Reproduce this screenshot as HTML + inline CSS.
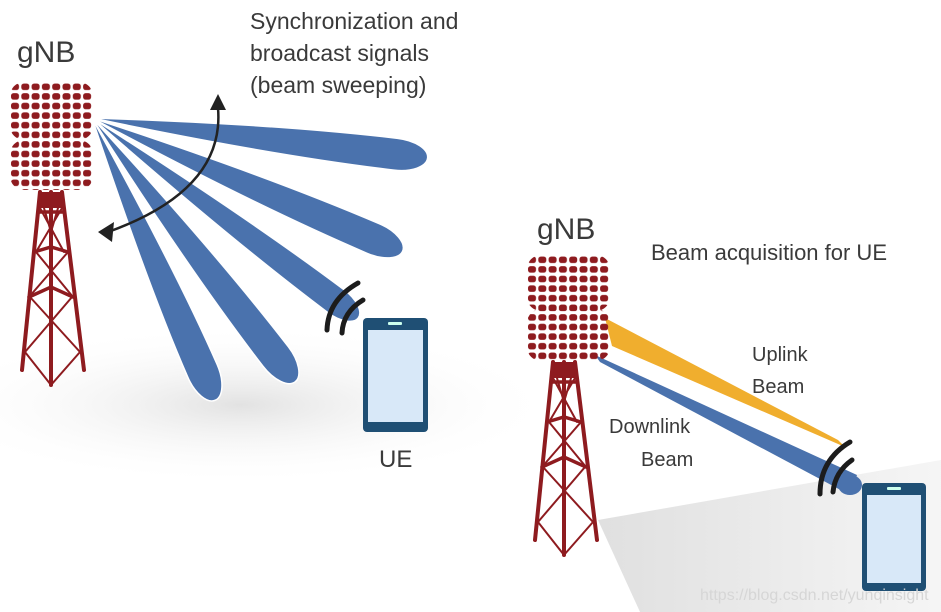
<!DOCTYPE html>
<html><head><meta charset="utf-8"><style>
html,body{margin:0;padding:0;background:#fff;}
svg{display:block;}
text{font-family:"Liberation Sans",sans-serif;fill:#3a3a3a;}
</style></head><body>
<svg width="941" height="612" viewBox="0 0 941 612" xmlns="http://www.w3.org/2000/svg">
<defs>
<pattern id="tiles" x="10" y="82" width="10.3" height="9.6" patternUnits="userSpaceOnUse">
<rect x="1" y="1.5" width="8" height="6.5" rx="2.5" fill="#8e1b1f"/>
</pattern>
<radialGradient id="shL" cx="0.5" cy="0.5" r="0.5">
<stop offset="0" stop-color="#e2e2e2"/><stop offset="1" stop-color="#fff" stop-opacity="0"/>
</radialGradient>
<linearGradient id="shR" x1="0" y1="0" x2="1" y2="0">
<stop offset="0" stop-color="#d8d8d8"/><stop offset="1" stop-color="#f3f3f3"/>
</linearGradient>
<g id="tower" stroke="#8e1b1f" fill="none" stroke-linecap="round">
<rect x="18" y="0" width="22" height="16" fill="#8e1b1f" stroke="none"/>
<path d="M18 0 L0 178 M40 0 L62 178 M29 0 L29 193" stroke-width="4"/>
<path d="M16 20 L42 20 M12 60 L29 55 L46 60 M7 105 L29 95 L51 105" stroke-width="3.5"/>
<path d="M18 16 L42 60 M40 16 L14 60 M14 60 L51 105 M46 60 L7 105 M8 105 L58 160 M50 105 L3 160 M3 160 L29 193 M58 160 L29 193 M22 16 L29 40 M36 16 L29 40" stroke-width="2"/>
</g>
</defs>
<rect width="941" height="612" fill="#fff"/>
<ellipse cx="240" cy="405" rx="320" ry="80" fill="url(#shL)"/>
<polygon points="598,520 941,460 941,612 640,612" fill="url(#shR)" opacity="0.8"/>

<text x="250" y="29" font-size="23">Synchronization and</text>
<text x="250" y="61" font-size="23">broadcast signals</text>
<text x="250" y="93" font-size="23">(beam sweeping)</text>
<text x="17" y="62" font-size="30">gNB</text>

<g fill="#4a72ad" stroke="#fff" stroke-width="1.5">
<path transform="translate(92 118) rotate(6.8)" d="M0 0 C80 -7 200 -16 306 -16 A32 16 0 0 1 306 16 C200 16 80 7 0 0 Z"/>
<path transform="translate(92 118) rotate(23.2)" d="M0 0 C80 -7 200 -16 306 -16 A32 16 0 0 1 306 16 C200 16 80 7 0 0 Z"/>
<path transform="translate(92 118) rotate(36.9)" d="M0 0 C80 -6 200 -14 305 -14 A28 14 0 0 1 305 14 C200 14 80 6 0 0 Z"/>
<path transform="translate(92 118) rotate(52.4)" d="M0 0 C80 -7 200 -16 301 -16 A32 16 0 0 1 301 16 C200 16 80 7 0 0 Z"/>
<path transform="translate(92 118) rotate(66.4)" d="M0 0 C80 -7 190 -16 276 -16 A32 16 0 0 1 276 16 C190 16 80 7 0 0 Z"/>
</g>
<path d="M218 108 Q225 190 108 232" stroke="#222" stroke-width="2.5" fill="none"/>
<polygon points="210,110 226,110 218,94" fill="#222"/>
<polygon points="98,232 114,222 112,242" fill="#222"/>

<rect x="10" y="82" width="83" height="58" rx="14" fill="url(#tiles)"/>
<rect x="10" y="140" width="83" height="50" rx="14" fill="url(#tiles)"/>
<use href="#tower" x="22" y="192"/>

<g stroke="#1c1c1c" stroke-width="5" fill="none" stroke-linecap="round">
<path d="M327 330 Q328 300 358 283"/>
<path d="M342 333 Q343 312 363 300"/>
</g>
<rect x="363" y="318" width="65" height="114" rx="4" fill="#1f4f74"/>
<rect x="368" y="330" width="55" height="92" fill="#d8e8f8"/>
<rect x="388" y="322" width="14" height="3" fill="#cfe" rx="1"/>
<text x="379" y="467" font-size="24">UE</text>

<text x="537" y="239" font-size="30">gNB</text>
<text x="651" y="260" font-size="22">Beam acquisition for UE</text>
<polygon points="605,318 612,346 845,447 838,440" fill="#f0ae2e"/>
<polygon points="595,355 600,362 850,495 857,475" fill="#4a72ad"/>
<ellipse cx="850" cy="485" rx="12" ry="10" fill="#4a72ad"/>
<g fill="url(#tiles)" transform="translate(517 173)">
<rect x="10" y="82" width="83" height="56" rx="14"/>
<rect x="10" y="136" width="83" height="52" rx="14"/>
</g>
<use href="#tower" x="535" y="362"/>
<g stroke="#1c1c1c" stroke-width="5" fill="none" stroke-linecap="round">
<path d="M820 494 Q820 460 850 442"/>
<path d="M833 492 Q835 472 852 460"/>
</g>
<text x="752" y="361" font-size="20">Uplink</text>
<text x="752" y="393" font-size="20">Beam</text>
<text x="609" y="433" font-size="20">Downlink</text>
<text x="641" y="466" font-size="20">Beam</text>
<rect x="862" y="483" width="64" height="108" rx="4" fill="#1f4f74"/>
<rect x="867" y="495" width="54" height="88" fill="#d8e8f8"/>
<rect x="887" y="487" width="14" height="3" fill="#cfe" rx="1"/>
<text x="700" y="600" font-size="16" style="fill:#d6d6d6">https://blog.csdn.net/yunqinsight</text>
</svg>
</body></html>
